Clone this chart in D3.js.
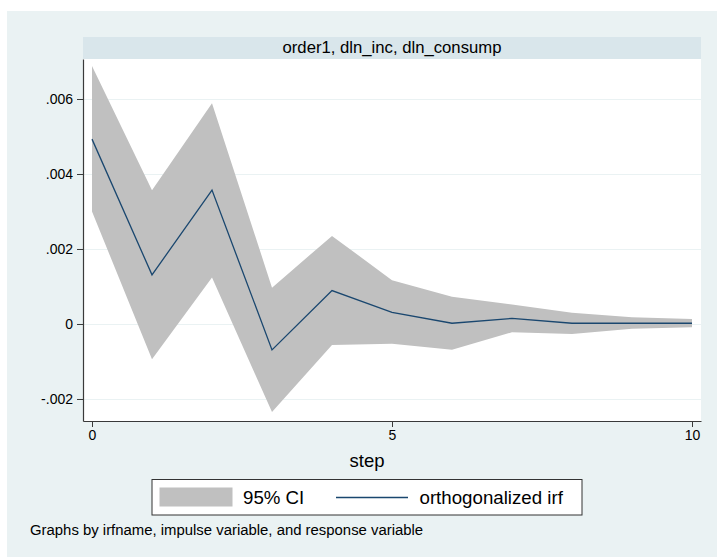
<!DOCTYPE html>
<html>
<head>
<meta charset="utf-8">
<script src="https://cdn.jsdelivr.net/npm/d3@7"></script>
<style>
  html, body { margin: 0; padding: 0; background: #ffffff; }
  svg { display: block; }
  text { font-family: "Liberation Sans", Arial, Helvetica, sans-serif; fill: #000; }
</style>
</head>
<body>
<svg id="chart" width="717" height="557"></svg>
<script>
// ---- data ----
const steps = [0, 1, 2, 3, 4, 5, 6, 7, 8, 9, 10];
const irf   = [0.00493, 0.00131, 0.00357, -0.00069, 0.00089, 0.00031, 0.00002, 0.00015, 0.00002, 0.00002, 0.00002];
const upper = [0.00688, 0.00357, 0.00589, 0.00097, 0.00235, 0.00117, 0.00073, 0.00052, 0.00030, 0.00018, 0.00013];
const lower = [0.00300, -0.00094, 0.00124, -0.00235, -0.00056, -0.00053, -0.00069, -0.00022, -0.00027, -0.00013, -0.00009];
const yTicks = [-0.002, 0, 0.002, 0.004, 0.006];
const yTickLabels = ["-.002", "0", ".002", ".004", ".006"];
const xTicks = [0, 5, 10];
const xTickLabels = ["0", "5", "10"];
const panelTitle = "order1, dln_inc, dln_consump";
const xTitle = "step";
const legendLabels = ["95% CI", "orthogonalized irf"];
const noteText = "Graphs by irfname, impulse variable, and response variable";

// ---- layout ----
const svg = d3.select("#chart");
const plot = { left: 83, right: 701, top: 59, bottom: 421 };
const colors = {
  outer: "#EAF2F3", strip: "#D9E6EB", grid: "#EAF2F3",
  ci: "#C0C0C0", line: "#1A476F", axis: "#3A3A3A"
};

const x = d3.scaleLinear().domain([-0.15, 10.15]).range([plot.left, plot.right]);
const y = d3.scaleLinear().domain([-0.0025867, 0.0070667]).range([plot.bottom, plot.top]);

// background
svg.append("rect").attr("x", 7).attr("y", 11).attr("width", 710).attr("height", 546).attr("fill", colors.outer);
// panel title strip
svg.append("rect").attr("x", plot.left).attr("y", 37).attr("width", plot.right - plot.left).attr("height", plot.top - 37).attr("fill", colors.strip);
svg.append("text").attr("x", (plot.left + plot.right) / 2).attr("y", 52.5)
  .attr("text-anchor", "middle").style("font-size", "16.7px").text(panelTitle);
// plot region
svg.append("rect").attr("x", plot.left).attr("y", plot.top).attr("width", plot.right - plot.left).attr("height", plot.bottom - plot.top).attr("fill", "#fff");

// gridlines
svg.append("g").selectAll("line").data(yTicks).join("line")
  .attr("x1", plot.left).attr("x2", plot.right)
  .attr("y1", d => Math.round(y(d)) + 0.5).attr("y2", d => Math.round(y(d)) + 0.5)
  .attr("stroke", colors.grid).attr("stroke-width", 1);

// CI area
const rows = steps.map((s, i) => ({ s, lo: lower[i], hi: upper[i], v: irf[i] }));
svg.append("path").datum(rows)
  .attr("d", d3.area().x(d => x(d.s)).y0(d => y(d.lo)).y1(d => y(d.hi)))
  .attr("fill", colors.ci);
// irf line
svg.append("path").datum(rows)
  .attr("d", d3.line().x(d => x(d.s)).y(d => y(d.v)))
  .attr("fill", "none").attr("stroke", colors.line).attr("stroke-width", 1.3);

// axes
const yAxis = d3.axisLeft(y).tickValues(yTicks)
  .tickFormat((d, i) => yTickLabels[i]).tickSize(6).tickSizeOuter(0).tickPadding(4);
const gy = svg.append("g").attr("transform", `translate(${plot.left},0)`).call(yAxis);
const xAxis = d3.axisBottom(x).tickValues(xTicks)
  .tickFormat((d, i) => xTickLabels[i]).tickSize(6).tickSizeOuter(0).tickPadding(3);
const gx = svg.append("g").attr("transform", `translate(0,${plot.bottom})`).call(xAxis);
[gx, gy].forEach(g => {
  g.select(".domain").attr("stroke", colors.axis).attr("stroke-width", 1.2);
  g.selectAll(".tick line").attr("stroke", colors.axis).attr("stroke-width", 1);
  g.selectAll(".tick text").attr("fill", "#000")
    .style("font-family", '"Liberation Sans", Arial, Helvetica, sans-serif').style("font-size", "14px");
});

// x title (centred with the legend)
svg.append("text").attr("x", 367).attr("y", 467)
  .attr("text-anchor", "middle").style("font-size", "18.5px").text(xTitle);

// legend
const lg = svg.append("g");
lg.append("rect").attr("x", 152).attr("y", 479.5).attr("width", 430).attr("height", 35.5)
  .attr("fill", "#fff").attr("stroke", "#333").attr("stroke-width", 1);
lg.append("rect").attr("x", 159.5).attr("y", 487.5).attr("width", 73).attr("height", 19).attr("fill", colors.ci);
lg.append("text").attr("x", 243).attr("y", 503.5).style("font-size", "18.7px").text(legendLabels[0]);
lg.append("line").attr("x1", 336).attr("x2", 408).attr("y1", 497.5).attr("y2", 497.5)
  .attr("stroke", colors.line).attr("stroke-width", 1.3);
lg.append("text").attr("x", 419.5).attr("y", 503.5).style("font-size", "18.7px").text(legendLabels[1]);

// note
svg.append("text").attr("x", 30).attr("y", 535).style("font-size", "14.9px").text(noteText);
</script>
</body>
</html>
